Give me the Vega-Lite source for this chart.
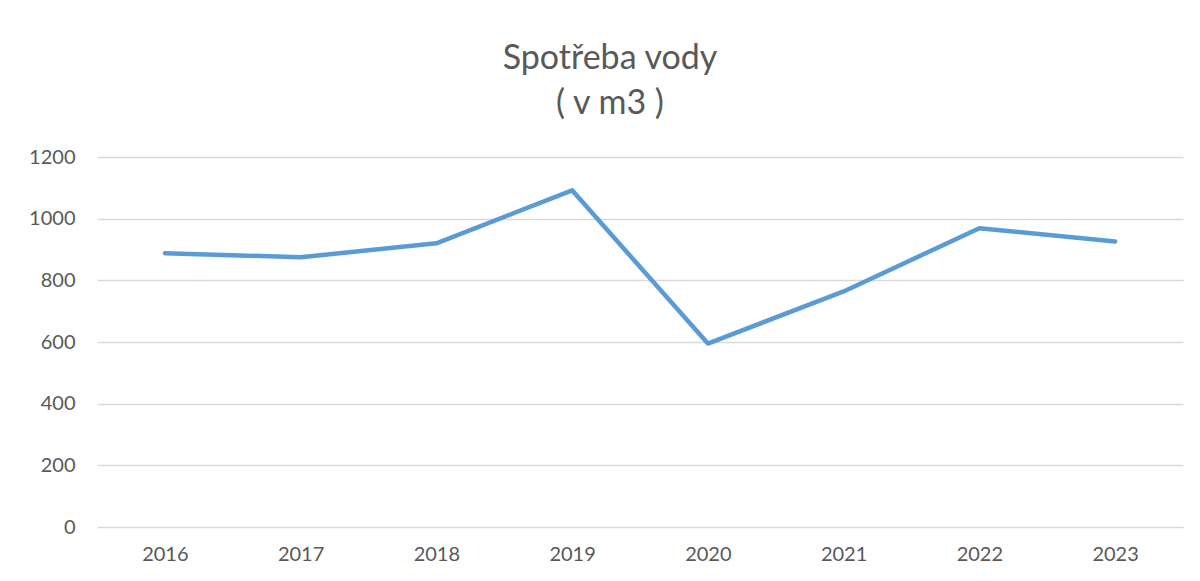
{
  "$schema": "https://vega.github.io/schema/vega-lite/v6.json",
  "autosize": {"type": "none"},
  "width": 1086,
  "height": 370,
  "padding": {"left": 97, "top": 157, "right": 17, "bottom": 54},
  "background": "white",
  "title": {
    "text": ["Spotřeba vody", "( v m3 )"],
    "anchor": "middle",
    "frame": "group",
    "dx": -30,
    "fontSize": 34,
    "font": "Lato",
    "fontWeight": "normal",
    "color": "#595959",
    "lineHeight": 45,
    "offset": 26
  },
  "data": {
    "values": [
      {"rok": "2016", "spotreba": 888},
      {"rok": "2017", "spotreba": 875},
      {"rok": "2018", "spotreba": 920},
      {"rok": "2019", "spotreba": 1092},
      {"rok": "2020", "spotreba": 595},
      {"rok": "2021", "spotreba": 764},
      {"rok": "2022", "spotreba": 969},
      {"rok": "2023", "spotreba": 926}
    ]
  },
  "mark": {"type": "line", "color": "#5B9BD5", "strokeWidth": 4.5, "strokeCap": "round", "strokeJoin": "round"},
  "encoding": {
    "x": {
      "field": "rok",
      "type": "ordinal",
      "scale": {"type": "point", "padding": 0.5},
      "axis": {
        "title": null,
        "domain": false,
        "ticks": false,
        "labelAngle": 0,
        "labelFont": "Lato",
        "labelFontSize": 20,
        "labelColor": "#595959",
        "labelPadding": 17,
        "grid": false
      }
    },
    "y": {
      "field": "spotreba",
      "type": "quantitative",
      "scale": {"domain": [0, 1200], "nice": false},
      "axis": {
        "title": null,
        "format": "d",
        "values": [0, 200, 400, 600, 800, 1000, 1200],
        "domain": false,
        "ticks": false,
        "labelFont": "Lato",
        "labelFontSize": 20,
        "labelColor": "#595959",
        "labelPadding": 22,
        "gridColor": "#d9d9d9",
        "gridWidth": 1.3
      }
    }
  },
  "config": {"view": {"stroke": null}}
}
